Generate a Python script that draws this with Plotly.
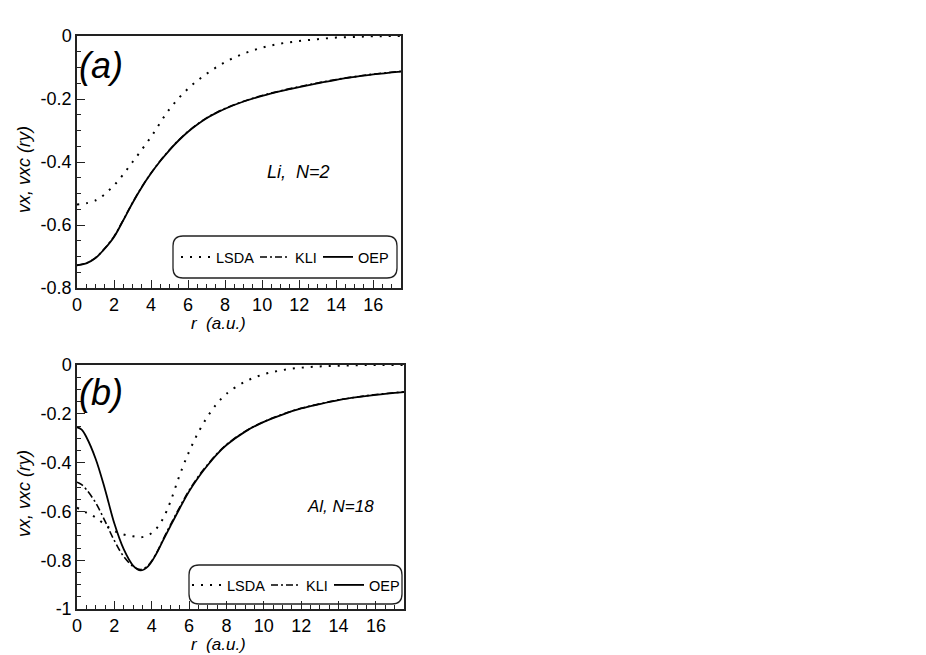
import plotly.graph_objects as go

# panel (a): Li, N=2
r_li_lsda = [0, 1, 2, 3, 4, 5, 6, 7, 8, 9, 10, 11, 12, 13, 14, 15, 16, 17.5]
li_lsda = [-0.535, -0.522, -0.474, -0.400, -0.320, -0.232, -0.167, -0.120, -0.083,
           -0.056, -0.037, -0.024, -0.016, -0.010, -0.005, -0.003, -0.001, 0.0]

r_li = [0, 0.5, 1, 1.5, 2, 2.5, 3, 3.5, 4, 4.5, 5, 5.5, 6, 6.5, 7, 7.5, 8, 9, 10, 11, 12,
        13, 14, 15, 16, 17.5]
li_oep = [-0.728, -0.722, -0.705, -0.675, -0.638, -0.585, -0.530, -0.480, -0.436, -0.397,
          -0.362, -0.331, -0.304, -0.281, -0.261, -0.245, -0.231, -0.208, -0.190, -0.175,
          -0.162, -0.150, -0.139, -0.130, -0.122, -0.113]
li_kli = [-0.727, -0.721, -0.704, -0.674, -0.636, -0.584, -0.529, -0.479, -0.435, -0.396,
          -0.361, -0.330, -0.303, -0.280, -0.260, -0.244, -0.230, -0.207, -0.189, -0.174,
          -0.161, -0.149, -0.138, -0.129, -0.121, -0.112]

# panel (b): Al, N=18
r_al_lsda = [0, 0.5, 1, 1.5, 2, 2.5, 3, 3.4, 3.8, 4.2, 4.6, 5, 5.5, 6, 6.5, 7, 7.5, 8,
             9, 10, 11, 12, 13, 14, 15, 16, 17.5]
al_lsda = [-0.585, -0.605, -0.625, -0.655, -0.680, -0.695, -0.702, -0.706, -0.698, -0.675,
           -0.630, -0.560, -0.450, -0.355, -0.275, -0.210, -0.157, -0.118, -0.068, -0.038,
           -0.021, -0.011, -0.006, -0.003, -0.001, 0.0, 0.0]

r_al = [0, 0.25, 0.5, 1, 1.5, 2, 2.5, 3, 3.4, 3.8, 4.2, 4.6, 5, 5.5, 6, 6.5, 7, 7.5, 8,
        9, 10, 11, 12, 13, 14, 15, 16, 17.5]
al_oep = [-0.255, -0.265, -0.295, -0.385, -0.510, -0.650, -0.755, -0.822, -0.842, -0.825,
          -0.780, -0.720, -0.660, -0.587, -0.518, -0.460, -0.410, -0.365, -0.328, -0.273,
          -0.233, -0.203, -0.178, -0.160, -0.144, -0.132, -0.122, -0.111]
al_kli = [-0.480, -0.490, -0.510, -0.565, -0.640, -0.720, -0.785, -0.825, -0.838, -0.822,
          -0.778, -0.716, -0.655, -0.582, -0.514, -0.456, -0.407, -0.363, -0.326, -0.272,
          -0.232, -0.202, -0.177, -0.159, -0.143, -0.131, -0.121, -0.110]

x_ticks = [0, 2, 4, 6, 8, 10, 12, 14, 16]
y_ticks_a = [0, -0.2, -0.4, -0.6, -0.8]
y_ticks_b = [0, -0.2, -0.4, -0.6, -0.8, -1]

FONT = "Liberation Sans, Arial, Helvetica, sans-serif"
DOT = "2px,7px"
DASHDOT = "7px,3px,2px,3px"

# the page body adds an 8px margin, so the figure is a bit smaller than the window
OFF = 8
W, H = 926 - OFF, 655 - OFF


def px(x):
    return (x - OFF) / W


def py(y):
    return 1 - (y - OFF) / H


def fmt(v):
    return "0" if v == 0 else ("%g" % v)


fig = go.Figure()

panels = [
    ("x", "y", "legend", r_li_lsda, li_lsda, r_li, li_kli, li_oep),
    ("x2", "y2", "legend2", r_al_lsda, al_lsda, r_al, al_kli, al_oep),
]
for xa, ya, lg, r_lsda, lsda, r_x, kli, oep in panels:
    # legendwidth squeezes the entries a little so they fit the rounded box
    fig.add_trace(go.Scatter(x=r_lsda, y=lsda, name="LSDA", mode="lines", line_shape="spline",
                             line=dict(color="black", width=2, dash=DOT), legendwidth=34,
                             xaxis=xa, yaxis=ya, legend=lg))
    fig.add_trace(go.Scatter(x=r_x, y=kli, name="KLI", mode="lines", line_shape="spline",
                             line=dict(color="black", width=1.6, dash=DASHDOT), legendwidth=18,
                             xaxis=xa, yaxis=ya, legend=lg))
    fig.add_trace(go.Scatter(x=r_x, y=oep, name="OEP", mode="lines", line_shape="spline",
                             line=dict(color="black", width=1.8),
                             xaxis=xa, yaxis=ya, legend=lg))

axis_common = dict(
    showgrid=False, zeroline=False, showline=True, linecolor="#222", linewidth=1.5,
    mirror=True, ticks="inside", ticklen=8, tickwidth=1.2, tickcolor="#222",
    automargin=False,
    tickfont=dict(family=FONT, size=18, color="black"),
)
xaxis_common = dict(axis_common, range=[0, 17.5], tickvals=x_ticks,
                    ticktext=[str(v) for v in x_ticks],
                    minor=dict(dtick=0.5, ticks="inside", ticklen=4, tickcolor="#222"))

legend_common = dict(orientation="h", xanchor="left", yanchor="middle",
                     bgcolor="rgba(0,0,0,0)", borderwidth=0, itemwidth=30,
                     font=dict(family=FONT, size=14.5), tracegroupgap=0)

fig.update_layout(
    width=W, height=H,
    paper_bgcolor="white", plot_bgcolor="white",
    margin=dict(l=0, r=0, t=0, b=0, autoexpand=False),
    font=dict(family=FONT, color="black"),
    xaxis=dict(xaxis_common, domain=[px(77), px(401)], anchor="y"),
    yaxis=dict(axis_common, domain=[py(288), py(36)], anchor="x", range=[-0.8, 0],
               tickvals=y_ticks_a, ticktext=[fmt(v) for v in y_ticks_a],
               minor=dict(dtick=0.05, ticks="inside", ticklen=4, tickcolor="#222")),
    xaxis2=dict(xaxis_common, domain=[px(77), px(404)], anchor="y2"),
    yaxis2=dict(axis_common, domain=[py(609), py(365)], anchor="x2", range=[-1, 0],
                tickvals=y_ticks_b, ticktext=[fmt(v) for v in y_ticks_b],
                minor=dict(dtick=0.05, ticks="inside", ticklen=4, tickcolor="#222")),
    legend=dict(legend_common, x=px(176), y=py(257)),
    legend2=dict(legend_common, x=px(187), y=py(585)),
)


def rounded_box(x0, y0, x1, y1, rpx=10):
    # corners in window pixels -> paper coordinates
    a0, a1, b0, b1 = px(x0), px(x1), py(y1), py(y0)
    rx, ry = rpx / W, rpx / H
    return (f"M {a0+rx},{b0} L {a1-rx},{b0} Q {a1},{b0} {a1},{b0+ry} "
            f"L {a1},{b1-ry} Q {a1},{b1} {a1-rx},{b1} L {a0+rx},{b1} "
            f"Q {a0},{b1} {a0},{b1-ry} L {a0},{b0+ry} Q {a0},{b0} {a0+rx},{b0} Z")


fig.add_shape(type="path", xref="paper", yref="paper",
              path=rounded_box(173, 236, 397, 278),
              line=dict(color="#222", width=1.3), fillcolor="rgba(0,0,0,0)")
fig.add_shape(type="path", xref="paper", yref="paper",
              path=rounded_box(189, 565, 402, 604),
              line=dict(color="#222", width=1.3), fillcolor="rgba(0,0,0,0)")

annotations = [
    ("<i>(a)</i>", 101, 66, 36),
    ("<i>(b)</i>", 101, 392, 36),
    ("<i>Li,  N=2</i>", 298, 172, 18),
    ("<i>Al, N=18</i>", 340, 506, 17),
    ("<i>r  (a.u.)</i>", 218, 323, 17),
    ("<i>r  (a.u.)</i>", 218, 644, 17),
]
for text, x, y, size in annotations:
    fig.add_annotation(text=text, x=px(x), y=py(y), xref="paper", yref="paper",
                       showarrow=False, xanchor="center", yanchor="middle",
                       font=dict(family=FONT, size=size, color="black"))
for yc in (170, 494):
    fig.add_annotation(text="<i>vx, vxc (ry)</i>", x=px(24), y=py(yc), xref="paper", yref="paper",
                       showarrow=False, textangle=-90, xanchor="center", yanchor="middle",
                       font=dict(family=FONT, size=18, color="black"))

fig.write_html("out.html")
